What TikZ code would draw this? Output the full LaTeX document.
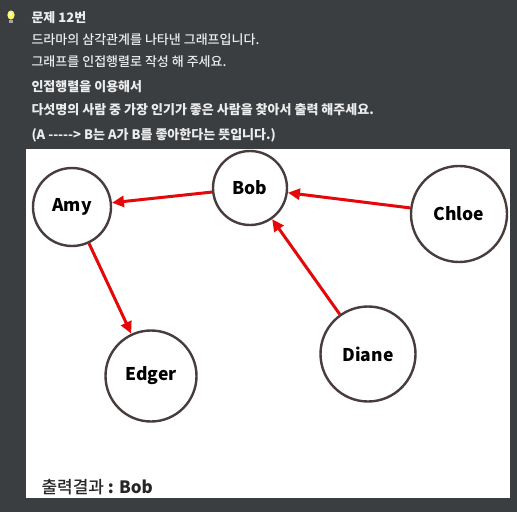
\documentclass[tikz,border=0pt]{standalone}
\usepackage{fontspec}
\setmainfont{Noto Sans CJK KR}
\newfontfamily\kmed{Noto Sans CJK KR Medium}
\usetikzlibrary{arrows.meta}
\definecolor{bg}{RGB}{58,62,65}
\definecolor{txt}{RGB}{236,236,236}
\definecolor{ring}{RGB}{72,60,60}
\definecolor{arr}{RGB}{228,8,10}
\begin{document}
\begin{tikzpicture}[x=1pt,y=-1pt,
  person/.style={circle,draw=ring,line width=2.4pt,fill=white,inner sep=0pt,font=\fontsize{17.5}{19}\selectfont\bfseries},
  like/.style={draw=arr,line width=3pt,-{Triangle[length=12pt,width=11pt]}},
  head/.style={anchor=west,text=txt,font=\fontsize{13}{15}\selectfont\bfseries},
  plain/.style={anchor=west,text=txt,font=\fontsize{13}{15}\selectfont\kmed}]
\fill[bg] (0,0) rectangle (517,512);
\useasboundingbox (0,0) rectangle (517,512);
% bulb
\fill[yellow!60!white] (11,15) ellipse (3.6 and 4.6);
\fill[white!85!yellow] (10.3,14) circle (1.6);
\fill[gray!70] (9,19.5) rectangle (13,22.5);
% header text
\node[head]  (t1) at (28,17.5) {문제 12번};
\node[plain] (t2) at (28,40) {드라마의 삼각관계를 나타낸 그래프입니다.};
\node[plain] (t3) at (28,62) {그래프를 인접행렬로 작성 해 주세요.};
\node[head]  (t4) at (28,87) {인접행렬을 이용해서};
\node[head]  (t5) at (28,110) {다섯명의 사람 중 가장 인기가 좋은 사람을 찾아서 출력 해주세요.};
\node[head]  (t6) at (28,135) {(A -{}-{}-{}-{}-{}> B는 A가 B를 좋아한다는 뜻입니다.)};
% white panel
\fill[white] (26,149) rectangle (510,498);
% nodes
\node[person,minimum size=78pt] (amy) at (72,207) {Amy};
\node[person,minimum size=74pt] (bob) at (250,188) {Bob};
\node[person,minimum size=96pt] (chloe) at (459,214) {Chloe};
\node[person,minimum size=95pt] (diane) at (368,354) {Diane};
\node[person,minimum size=91pt] (edger) at (151,376) {Edger};
% edges
\draw[like] (bob) -- (amy);
\draw[like] (chloe) -- (bob);
\draw[like] (diane) -- (bob);
\draw[like] (amy) -- (edger);
% result
\node[anchor=west,font=\fontsize{17}{19}\selectfont\kmed,text=black!85] (res) at (38,487) {출력결과 \textbf{: Bob}};
\end{tikzpicture}
\end{document}
